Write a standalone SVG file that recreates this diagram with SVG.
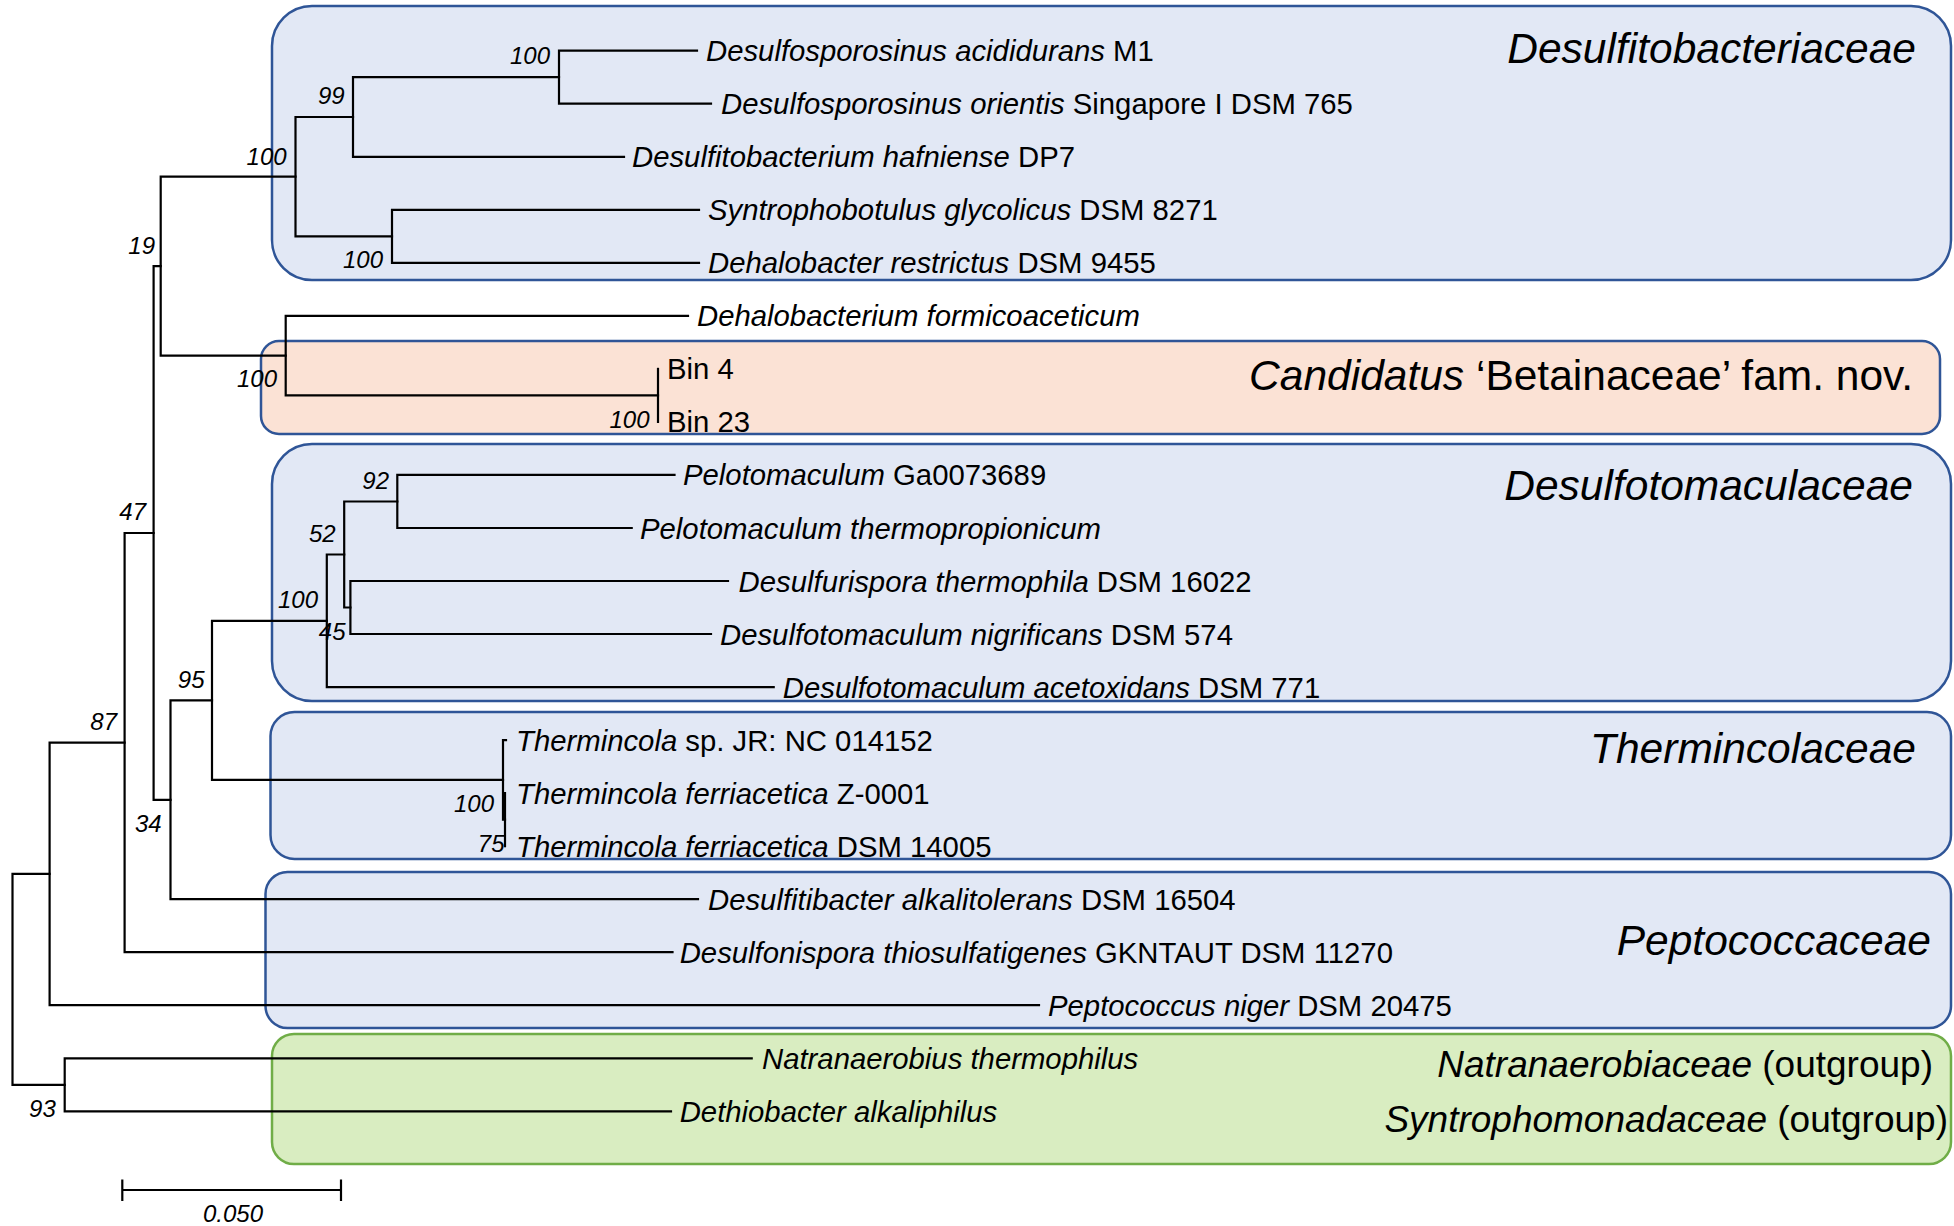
<svg xmlns="http://www.w3.org/2000/svg" width="1954" height="1226" viewBox="0 0 1954 1226">
<style>
.bg{fill:#ffffff}
.bb{fill:#E2E8F5;stroke:#2F5597;stroke-width:2.5}
.bo{fill:#FBE2D5;stroke:#2F5597;stroke-width:2.5}
.bgn{fill:#D9EDC1;stroke:#70AD47;stroke-width:2.5}
.br{stroke:#000;stroke-width:2.2;fill:none;stroke-linecap:square}
text{font-family:"Liberation Sans",Arial,sans-serif;fill:#000}
.lf{font-size:29.3px}
.i{font-style:italic}
.bs{font-size:24px;font-style:italic;text-anchor:end}
.gl{font-size:42.5px;text-anchor:end}
.go{font-size:37px;text-anchor:end}
.sc{font-size:24px;font-style:italic;text-anchor:middle}
</style>
<rect class="bg" x="0" y="0" width="1954" height="1226"/>
<g id="family-boxes">
<g id="desulfitobacteriaceae"><rect class="bb" x="272" y="6" width="1679" height="274" rx="40" ry="40"/><text class="gl i" x="1916" y="63">Desulfitobacteriaceae</text></g>
<g id="betainaceae"><rect class="bo" x="261" y="341" width="1679" height="93" rx="18" ry="18"/><text class="gl" x="1913" y="390"><tspan class="i">Candidatus</tspan> ‘Betainaceae’ fam. nov.</text></g>
<g id="desulfotomaculaceae"><rect class="bb" x="272" y="444" width="1679" height="257" rx="40" ry="40"/><text class="gl i" x="1913" y="500">Desulfotomaculaceae</text></g>
<g id="thermincolaceae"><rect class="bb" x="270.5" y="712" width="1680.5" height="147" rx="24" ry="24"/><text class="gl i" x="1916" y="763">Thermincolaceae</text></g>
<g id="peptococcaceae"><rect class="bb" x="265.5" y="872" width="1685.5" height="156" rx="22" ry="22"/><text class="gl i" x="1931" y="955">Peptococcaceae</text></g>
<g id="outgroup"><rect class="bgn" x="272" y="1034" width="1679" height="130" rx="22" ry="22"/><text class="go" x="1933" y="1077"><tspan class="i">Natranaerobiaceae</tspan> (outgroup)</text><text class="go" x="1948" y="1132"><tspan class="i">Syntrophomonadaceae</tspan> (outgroup)</text></g>
</g>
<g id="connectors">
<path class="br" d="M12.5 873.9V1084.8M12.5 873.9H49.6M12.5 1084.8H64.7"/>
<path class="br" d="M64.7 1058.3V1111.3M64.7 1058.3H751.7M64.7 1111.3H671"/>
<path class="br" d="M49.6 742.6V1005.2M49.6 742.6H124.6M49.6 1005.2H1039"/>
<path class="br" d="M124.6 533V952.2M124.6 533H153.6M124.6 952.2H672.5"/>
<path class="br" d="M153.6 266.2V799.8M153.6 266.2H160.7M153.6 799.8H170.5"/>
<path class="br" d="M170.5 700.4V899.2M170.5 700.4H212M170.5 899.2H698"/>
<path class="br" d="M212 620.8V779.9M212 620.8H326.8M212 779.9H503"/>
<path class="br" d="M503 740.1V819.7M503 740.1H506M503 819.7H505"/>
<path class="br" d="M505 793.1V846.2"/>
<path class="br" d="M326.8 554.5V687.1M326.8 554.5H344.2M326.8 687.1H773.7"/>
<path class="br" d="M344.2 501.5V607.5M344.2 501.5H397.3M344.2 607.5H350.4"/>
<path class="br" d="M397.3 474.9V528M397.3 474.9H674.5M397.3 528H631.7"/>
<path class="br" d="M350.4 581V634M350.4 581H728M350.4 634H711"/>
<path class="br" d="M160.7 176.7V355.7M160.7 176.7H295.5M160.7 355.7H285.7"/>
<path class="br" d="M295.5 117V236.3M295.5 117H353M295.5 236.3H392"/>
<path class="br" d="M353 77.2V156.8M353 77.2H559M353 156.8H624"/>
<path class="br" d="M559 50.7V103.7M559 50.7H697M559 103.7H711"/>
<path class="br" d="M392 209.8V262.8M392 209.8H699M392 262.8H699"/>
<path class="br" d="M285.7 315.9V395.4M285.7 315.9H688M285.7 395.4H658"/>
<path class="br" d="M658 368.9V421.9"/>
</g>
<g id="bootstrap">
<text class="bs" x="550" y="64">100</text>
<text class="bs" x="344.6" y="104.3">99</text>
<text class="bs" x="286.6" y="165">100</text>
<text class="bs" x="155" y="254">19</text>
<text class="bs" x="383" y="268">100</text>
<text class="bs" x="277" y="386.7">100</text>
<text class="bs" x="649.5" y="427.7">100</text>
<text class="bs" x="146" y="520">47</text>
<text class="bs" x="389" y="489.3">92</text>
<text class="bs" x="335.7" y="542.3">52</text>
<text class="bs" x="318" y="608.3">100</text>
<text class="bs" x="345.5" y="640">45</text>
<text class="bs" x="204.5" y="688.3">95</text>
<text class="bs" x="117" y="730">87</text>
<text class="bs" x="494" y="811.7">100</text>
<text class="bs" x="504.5" y="851.7">75</text>
<text class="bs" x="161.6" y="831.7">34</text>
<text class="bs" x="55.8" y="1116.7">93</text>
</g>
<g id="leaves">
<g id="leaf1"><text class="lf" x="706" y="61.2"><tspan class="i">Desulfosporosinus acididurans</tspan> M1</text></g>
<g id="leaf2"><text class="lf" x="721" y="114.2"><tspan class="i">Desulfosporosinus orientis</tspan> Singapore I DSM 765</text></g>
<g id="leaf3"><text class="lf" x="632" y="167.3"><tspan class="i">Desulfitobacterium hafniense</tspan> DP7</text></g>
<g id="leaf4"><text class="lf" x="708" y="220.3"><tspan class="i">Syntrophobotulus glycolicus</tspan> DSM 8271</text></g>
<g id="leaf5"><text class="lf" x="708" y="273.3"><tspan class="i">Dehalobacter restrictus</tspan> DSM 9455</text></g>
<g id="leaf6"><text class="lf i" x="697" y="326.4">Dehalobacterium formicoaceticum</text></g>
<g id="leaf7"><text class="lf" x="667" y="379.4">Bin 4</text></g>
<g id="leaf8"><text class="lf" x="667" y="432.4">Bin 23</text></g>
<g id="leaf9"><text class="lf" x="683" y="485.4"><tspan class="i">Pelotomaculum</tspan> Ga0073689</text></g>
<g id="leaf10"><text class="lf i" x="640" y="538.5">Pelotomaculum thermopropionicum</text></g>
<g id="leaf11"><text class="lf" x="738.6" y="591.5"><tspan class="i">Desulfurispora thermophila</tspan> DSM 16022</text></g>
<g id="leaf12"><text class="lf" x="720" y="644.5"><tspan class="i">Desulfotomaculum nigrificans</tspan> DSM 574</text></g>
<g id="leaf13"><text class="lf" x="782.8" y="697.6"><tspan class="i">Desulfotomaculum acetoxidans</tspan> DSM 771</text></g>
<g id="leaf14"><text class="lf" x="516" y="750.6"><tspan class="i">Thermincola</tspan> sp. JR: NC 014152</text></g>
<g id="leaf15"><text class="lf" x="516" y="803.6"><tspan class="i">Thermincola ferriacetica</tspan> Z-0001</text></g>
<g id="leaf16"><text class="lf" x="516" y="856.7"><tspan class="i">Thermincola ferriacetica</tspan> DSM 14005</text></g>
<g id="leaf17"><text class="lf" x="708" y="909.7"><tspan class="i">Desulfitibacter alkalitolerans</tspan> DSM 16504</text></g>
<g id="leaf18"><text class="lf" x="679.7" y="962.7"><tspan class="i">Desulfonispora thiosulfatigenes</tspan> GKNTAUT DSM 11270</text></g>
<g id="leaf19"><text class="lf" x="1048" y="1015.7"><tspan class="i">Peptococcus niger</tspan> DSM 20475</text></g>
<g id="leaf20"><text class="lf i" x="762" y="1068.8">Natranaerobius thermophilus</text></g>
<g id="leaf21"><text class="lf i" x="679.7" y="1121.8">Dethiobacter alkaliphilus</text></g>
</g>
<g id="scale-bar">
<path class="br" d="M122.3 1190H341M122.3 1180.7V1200M341 1180.7V1200"/>
<text class="sc" x="233" y="1222">0.050</text>
</g>
</svg>
